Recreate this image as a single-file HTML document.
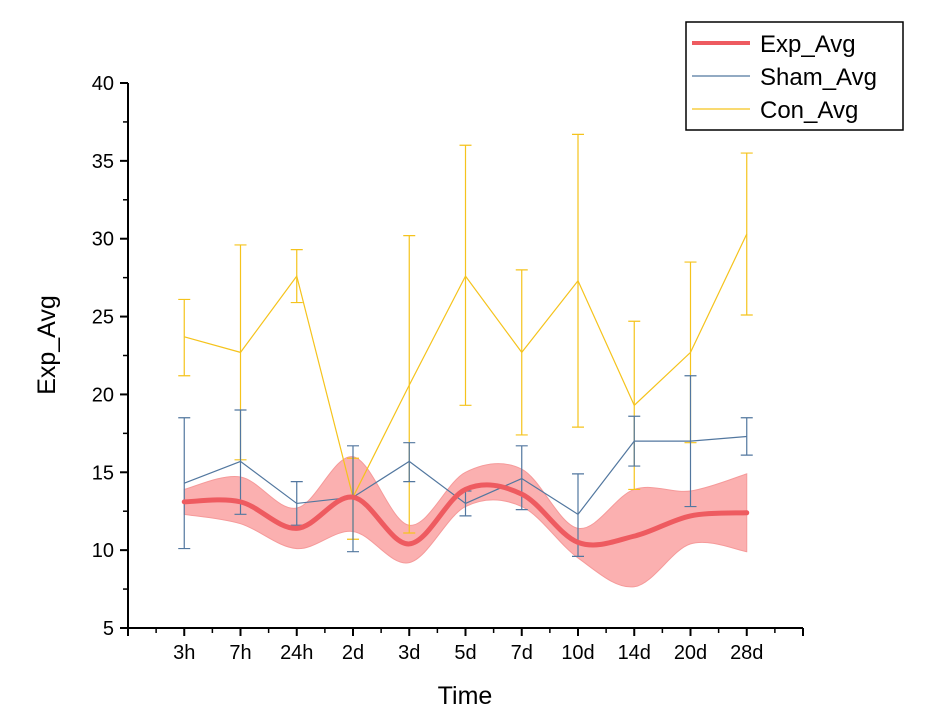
<!DOCTYPE html>
<html><head><meta charset="utf-8"><style>
html,body{margin:0;padding:0;background:#fff;}
svg{display:block;font-family:"Liberation Sans",Arial,sans-serif;}
</style></head><body>
<svg id="chart" width="928" height="720"></svg>
<script>
const categories=["3h","7h","24h","2d","3d","5d","7d","10d","14d","20d","28d"];
const expVals=[13.1,13.1,11.4,13.4,10.4,13.9,13.6,10.5,10.9,12.2,12.4];
const expUpper=[13.9,14.7,12.7,16.0,11.6,15.0,15.2,11.4,13.9,13.8,14.9];
const expLower=[12.3,11.7,10.1,11.2,9.2,12.8,12.8,9.5,7.65,10.4,9.9];
const shamVals=[14.3,15.7,13.0,13.4,15.7,13.0,14.6,12.3,17.0,17.0,17.3];
const shamLo=[10.1,12.3,11.6,9.9,14.4,12.2,12.6,9.6,15.4,12.8,16.1];
const shamHi=[18.5,19.0,14.4,16.7,16.9,13.8,16.7,14.9,18.6,21.2,18.5];
const conVals=[23.7,22.7,27.6,13.4,20.6,27.6,22.7,27.3,19.3,22.7,30.3];
const conLo=[21.2,15.8,25.9,10.7,11.1,19.3,17.4,17.9,13.9,16.9,25.1];
const conHi=[26.1,29.6,29.3,15.9,30.2,36.0,28.0,36.7,24.7,28.5,35.5];
const yTicks=[5,10,15,20,25,30,35,40];

const NS="http://www.w3.org/2000/svg";
const svg=document.getElementById("chart");
const X0=128,X1=803,Y0=628,Y1=83;
const xs=i=>X0+(i+1)*(X1-X0)/12;
const ys=v=>Y0-(v-5)*(Y0-Y1)/35;
function mk(t,a,p){const e=document.createElementNS(NS,t);for(const k in a)e.setAttribute(k,a[k]);(p||svg).appendChild(e);return e;}
function spline(pts){let d=`M${pts[0][0]},${pts[0][1]}`;for(let i=0;i<pts.length-1;i++){const p0=pts[i-1]||pts[i],p1=pts[i],p2=pts[i+1],p3=pts[i+2]||p2;d+=` C${p1[0]+(p2[0]-p0[0])/6},${p1[1]+(p2[1]-p0[1])/6} ${p2[0]-(p3[0]-p1[0])/6},${p2[1]-(p3[1]-p1[1])/6} ${p2[0]},${p2[1]}`;}return d;}

// band
const up=expUpper.map((v,i)=>[xs(i),ys(v)]);
const lo=expLower.map((v,i)=>[xs(i),ys(v)]).reverse();
let band=mk("path",{d:spline(up)+" L"+spline(lo).slice(1)+" Z",fill:"#fbb0b0",stroke:"#f59a9a","stroke-width":1});



// con series
function series(vals,lo,hi,color,name){
  const g=mk("g",{});
  
  
  vals.forEach((v,i)=>{
    const x=xs(i);
    const eb=mk("path",{d:`M${x},${ys(lo[i])}V${ys(hi[i])}M${x-6},${ys(lo[i])}H${x+6}M${x-6},${ys(hi[i])}H${x+6}`,stroke:color,"stroke-width":1.2,fill:"none"},g);
    
    
  });
  const ln=mk("polyline",{points:vals.map((v,i)=>xs(i)+","+ys(v)).join(" "),fill:"none",stroke:color,"stroke-width":1.2},g);
  
  
}
series(conVals,conLo,conHi,"#f5c31c","con");
series(shamVals,shamLo,shamHi,"#52779f","sham");

let el=mk("path",{d:spline(expVals.map((v,i)=>[xs(i),ys(v)])),fill:"none",stroke:"#ee5b60","stroke-width":5,"stroke-linecap":"round"});



// axes
let ax=mk("path",{d:`M${X0},${Y1}V${Y0}H${X1}`,stroke:"#000","stroke-width":2,fill:"none"});


yTicks.forEach(v=>{
  mk("line",{x1:X0-8,x2:X0,y1:ys(v),y2:ys(v),stroke:"#000","stroke-width":2});
  if(v<40)mk("line",{x1:X0-5,x2:X0,y1:ys(v+2.5),y2:ys(v+2.5),stroke:"#000","stroke-width":1.5});
  const t=mk("text",{x:X0-14,y:ys(v)+7,"text-anchor":"end","font-size":20});
  t.textContent=v;
  
  
});
for(let i=-1;i<=11;i++){
  const x=xs(i);
  mk("line",{x1:x,x2:x,y1:Y0,y2:Y0+8,stroke:"#000","stroke-width":2});
  if(i<11)mk("line",{x1:x+(X1-X0)/24,x2:x+(X1-X0)/24,y1:Y0,y2:Y0+5,stroke:"#000","stroke-width":1.5});
}
categories.forEach((c,i)=>{
  const t=mk("text",{x:xs(i),y:Y0+31,"text-anchor":"middle","font-size":20});
  t.textContent=c;
  
  
});
let xt=mk("text",{x:465,y:704,"text-anchor":"middle","font-size":25});
xt.textContent="Time";


let yt=mk("text",{x:0,y:0,"text-anchor":"middle","font-size":25,transform:"translate(55,345) rotate(-90)"});
yt.textContent="Exp_Avg";



// legend
const lg=mk("g",{});


mk("rect",{x:686,y:22,width:217,height:108,fill:"#fff",stroke:"#000","stroke-width":1.5},lg);
[["Exp_Avg","#ee5b60",4],["Sham_Avg","#52779f",1.2],["Con_Avg","#f5c31c",1.2]].forEach((e,k)=>{
  const y=43+k*33;
  mk("line",{x1:692,x2:750,y1:y,y2:y,stroke:e[1],"stroke-width":e[2]},lg);
  const t=mk("text",{x:760,y:y+9,"font-size":24},lg);
  t.textContent=e[0];
  
  
});
</script>
</body></html>
